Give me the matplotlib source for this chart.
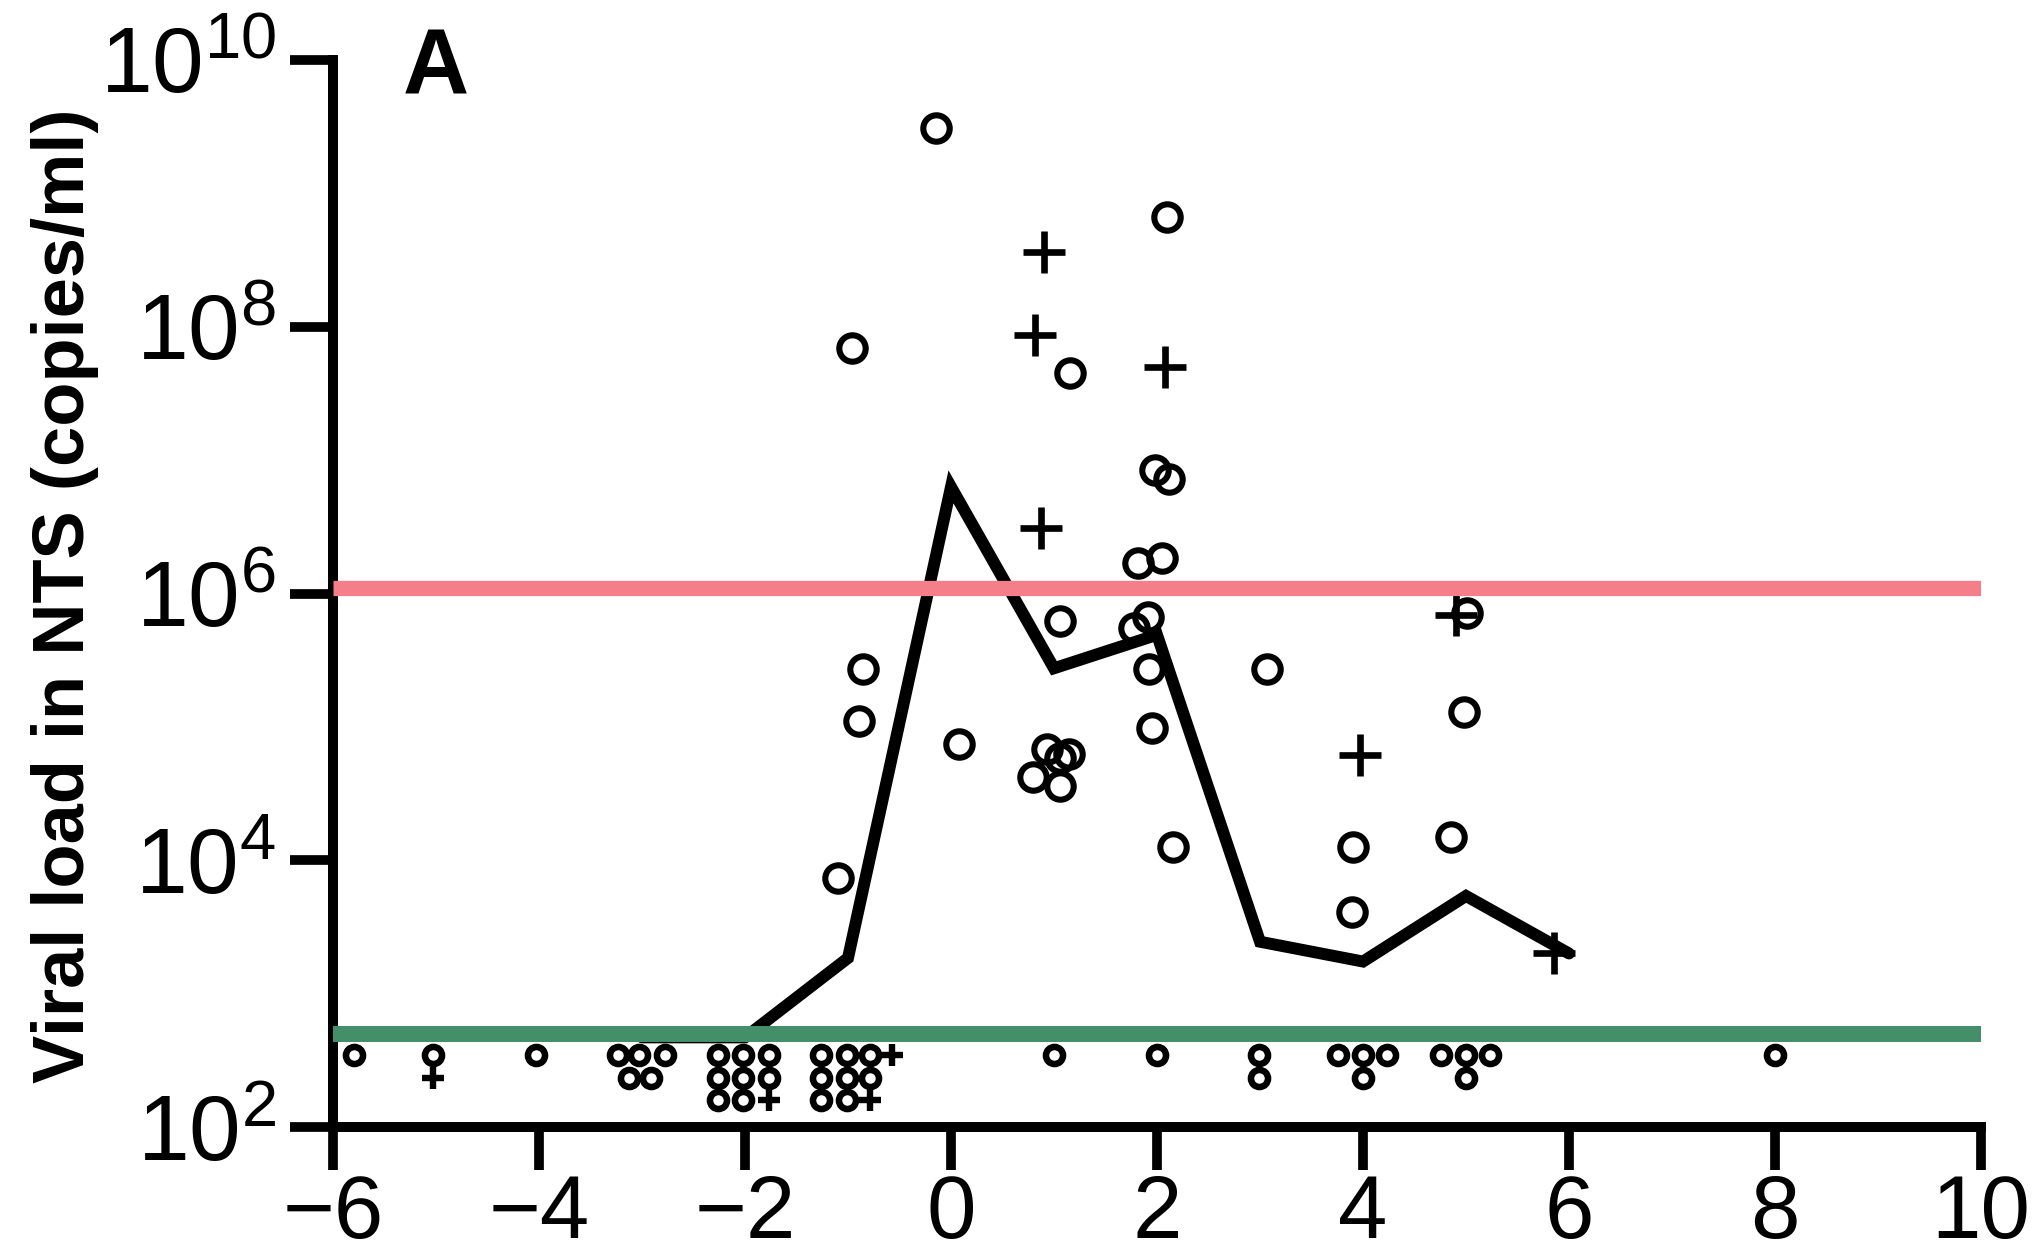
import matplotlib
matplotlib.use('Agg')
import matplotlib.pyplot as plt
from matplotlib.ticker import NullLocator

plt.rcParams['font.family'] = ['Liberation Sans', 'DejaVu Sans']
plt.rcParams['mathtext.fontset'] = 'custom'
plt.rcParams['mathtext.rm'] = 'Liberation Sans'
plt.rcParams['mathtext.it'] = 'Liberation Sans:italic'
plt.rcParams['mathtext.bf'] = 'Liberation Sans:bold'

# ---------------- data ----------------
# detected samples (open circles)
circle_x = [-0.15, 2.10, -0.96, 1.16, 1.985, 2.115, 1.82, 2.05, 1.06, 1.775, 1.914,
            -0.856, 1.92, 3.07, -0.898, 1.95, 0.074, 0.93, 1.15, 1.056, 0.80, 1.06,
            2.16, -1.10, 5.01, 4.98, 3.90, 4.85, 3.89]
circle_y = [3.1e9, 6.7e8, 6.9e7, 4.5e7, 8.5e6, 7.2e6, 1.69e6, 1.84e6, 6.2e5, 5.5e5, 6.7e5,
            2.7e5, 2.7e5, 2.7e5, 1.1e5, 9.8e4, 7.4e4, 6.8e4, 6.3e4, 5.8e4, 4.2e4, 3.6e4,
            1.26e4, 7.3e3, 7.1e5, 1.29e5, 1.26e4, 1.5e4, 4.1e3]
# detected samples (plus)
plus_x = [0.90, 0.82, 2.08, 0.874, 4.90, 3.97, 5.85]
plus_y = [3.66e8, 8.7e7, 5.0e7, 3.1e6, 6.9e5, 6.2e4, 2.0e3]

# undetectable samples, stacked in rows below the detection limit
nd_row_values = [348, 234, 160]
nd_circle_x_rows = [
    [-5.8, -5.03, -4.03, -3.23, -3.03, -2.78, -2.26, -2.02, -1.77, -1.26, -1.01, -0.79,
     1.0, 2.0, 2.99, 3.76, 4.0, 4.23, 4.76, 5.0, 5.23, 8.0],
    [-3.13, -2.91, -2.26, -2.02, -1.77, -1.26, -1.01, -0.79, 2.99, 4.0, 5.0],
    [-2.26, -2.02, -1.26, -1.01],
]
nd_plus_x_rows = [
    [-0.57],
    [-5.03],
    [-1.77, -0.79],
]

# mean line
mean_x = [-3, -2, -1, 0, 1, 2, 3, 4, 5, 6]
mean_y = [470, 470, 1850, 6.3e6, 2.75e5, 4.9e5, 2450, 1740, 5400, 2000]

# reference lines
upper_ref = 1.1e6
lower_ref = 500

x_ticks = [-6, -4, -2, 0, 2, 4, 6, 8, 10]
x_tick_labels = ['\u22126', '\u22124', '\u22122', '0', '2', '4', '6', '8', '10']
y_ticks = [1e2, 1e4, 1e6, 1e8, 1e10]
y_tick_labels = [r'$\mathregular{10^{2}}$', r'$\mathregular{10^{4}}$', r'$\mathregular{10^{6}}$',
                 r'$\mathregular{10^{8}}$', r'$\mathregular{10^{10}}$']
y_label = 'Viral load in NTS (copies/ml)'
panel_label = 'A'

# ---------------- figure ----------------
W, H = 2037, 1253
fig = plt.figure(figsize=(W / 100, H / 100), dpi=100)
ax = fig.add_axes([333 / W, 1 - 1127 / H, (1981 - 333) / W, (1127 - 60) / H])
ax.set_yscale('log')
ax.set_xlim(-6, 10)
ax.set_ylim(1e2, 1e10)

ax.plot(mean_x, mean_y, color='black', lw=8.6, solid_joinstyle='miter',
        solid_capstyle='round', zorder=2)

ax.plot(circle_x, circle_y, ls='none', marker='o', ms=19, mfc='none', mec='black',
        mew=4.4, zorder=3)
ax.plot(plus_x, plus_y, ls='none', marker='+', ms=30, mec='black', mew=4.8, zorder=3)

for val, xs in zip(nd_row_values, nd_circle_x_rows):
    ax.plot(xs, [val] * len(xs), ls='none', marker='o', ms=12.3, mfc='none',
            mec='black', mew=4.7, zorder=3)
for val, xs in zip(nd_row_values, nd_plus_x_rows):
    ax.plot(xs, [val] * len(xs), ls='none', marker='+', ms=15.5, mec='black',
            mew=4.6, zorder=3)

ax.axhline(upper_ref, color='#F47F8A', lw=11, solid_capstyle='butt', zorder=4)
ax.axhline(lower_ref, color='#448E69', lw=11.5, solid_capstyle='butt', zorder=4)

ax.set_xticks(x_ticks)
ax.set_xticklabels(x_tick_labels)
ax.set_yticks(y_ticks)
ax.set_yticklabels(y_tick_labels)
ax.yaxis.set_minor_locator(NullLocator())
ax.xaxis.set_minor_locator(NullLocator())

for s in ['top', 'right']:
    ax.spines[s].set_visible(False)
for s in ['left', 'bottom']:
    ax.spines[s].set_linewidth(7.2)
    ax.spines[s].set_capstyle('projecting')

ax.tick_params(axis='both', which='major', direction='out', length=31, width=7,
               color='black')
ax.tick_params(axis='y', pad=10, labelsize=67)
ax.tick_params(axis='x', pad=2, labelsize=64)

fig.text(65 / W, 1 - 596 / H, y_label, rotation=90, ha='center', va='center',
         fontsize=52, fontweight='bold')
fig.text(403 / W, 1 - 94 / H, panel_label, ha='left', va='baseline',
         fontsize=66, fontweight='bold')

fig.savefig('out.png', dpi=100)
